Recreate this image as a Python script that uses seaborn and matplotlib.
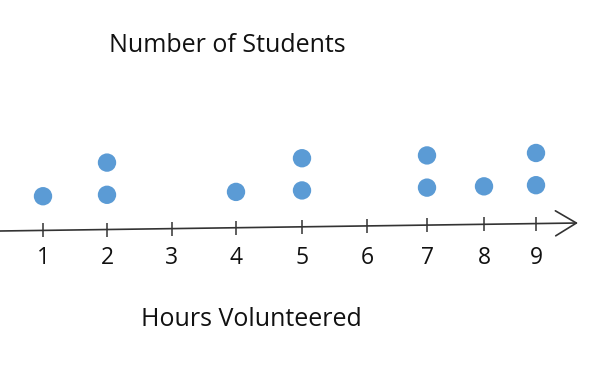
import numpy as np
import pandas as pd
import matplotlib
matplotlib.use("Agg")
import matplotlib.pyplot as plt
import matplotlib.transforms as mtransforms
import seaborn as sns

# ---- data ----
hours = [1, 2, 3, 4, 5, 6, 7, 8, 9]
students = [1, 2, 0, 1, 2, 0, 2, 1, 2]
tick_labels = ["1", "2", "3", "4", "5", "6", "7", "8", "9"]
title_text = "Number of Students"
xlabel_text = "Hours Volunteered"

rows = []
for h, c in zip(hours, students):
    for k in range(1, c + 1):
        rows.append({"hours": h, "level": k})
df = pd.DataFrame(rows)

# ---- layout ----
W, H = 600, 376
sns.set_theme(style="white")
plt.rcParams["font.family"] = ["Open Sans", "DejaVu Sans"]

fig = plt.figure(figsize=(W / 100, H / 100), dpi=100)
ax = fig.add_axes([0, 0, 1, 1])

# hand-drawn number line: uneven spacing of hour marks (pixel positions)
knot_h = np.array([0, 1, 2, 3, 4, 5, 6, 7, 8, 9, 11], dtype=float)
knot_px = np.array([-21, 43, 107, 172, 236, 302, 367, 427, 484, 536, 640], dtype=float)

def fwd(x):
    return np.interp(np.asarray(x, dtype=float), knot_h, knot_px)

def inv(p):
    return np.interp(np.asarray(p, dtype=float), knot_px, knot_h)

ax.set_xscale("function", functions=(fwd, inv))
ax.set_xlim(float(inv(0)), float(inv(W)))
ax.set_ylim(-4.553, 7.124)

sns.scatterplot(data=df, x="hours", y="level", ax=ax, s=175,
                color="#5B9BD5", edgecolor="none", legend=False, zorder=3)
# slight upward drift of the dots, like the hand-made original
coll = ax.collections[-1]
coll.set_offset_transform(ax.transData + mtransforms.Affine2D().skew(0, np.arctan(0.0224)))

ax.set_axis_off()

line_col = "#333333"
# number line with arrow
y0_top, y1_top, x_end = 231, 223, 578
ax.annotate("", xy=(x_end / W, 1 - y1_top / H), xytext=(0, 1 - y0_top / H),
            xycoords="axes fraction", textcoords="axes fraction",
            arrowprops=dict(arrowstyle="->,head_length=0.75,head_width=0.45",
                            lw=1.2, color=line_col, mutation_scale=20,
                            shrinkA=0, shrinkB=0))

blend = mtransforms.blended_transform_factory(ax.transData, ax.transAxes)
for h, lab in zip(hours, tick_labels):
    px = fwd(h)
    ly = y0_top + (y1_top - y0_top) * px / x_end
    ax.plot([h, h], [1 - (ly - 7) / H, 1 - (ly + 7) / H], transform=blend,
            color=line_col, lw=1.1, solid_capstyle="butt")
    ax.text(h, 1 - 258 / H, lab, transform=blend, ha="center", va="center",
            fontsize=16.5, color="#111111")

fig.text(227 / W, 1 - 46 / H, title_text, ha="center", va="center",
         fontsize=18, color="#111111")
fig.text(251 / W, 1 - 320 / H, xlabel_text, ha="center", va="center",
         fontsize=18, color="#111111")

fig.savefig("out.png", dpi=100)
